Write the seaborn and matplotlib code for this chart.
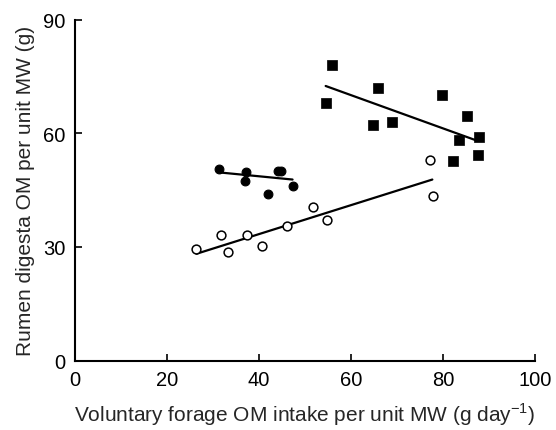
import matplotlib
matplotlib.use("Agg")
import matplotlib.pyplot as plt
import seaborn as sns
import pandas as pd

# Filled circles
fc_x = [31.2, 37.2, 37.0, 42.0, 44.2, 44.7, 47.5]
fc_y = [50.6, 49.7, 47.3, 44.0, 50.1, 50.0, 46.2]
# Open circles
oc_x = [26.4, 31.7, 33.2, 37.4, 40.7, 46.2, 51.7, 54.7, 77.2, 77.8]
oc_y = [29.5, 33.2, 28.6, 33.2, 30.3, 35.6, 40.5, 37.0, 53.0, 43.5]
# Filled squares
sq_x = [55.9, 54.5, 65.9, 64.7, 68.9, 79.8, 85.3, 83.4, 87.9, 82.2, 87.6]
sq_y = [78.0, 67.9, 72.0, 62.2, 62.9, 70.2, 64.5, 58.2, 59.1, 52.6, 54.4]

# Fitted lines (endpoints)
fit_fc_x = [31.2, 47.3]
fit_fc_y = [49.7, 47.8]
fit_oc_x = [26.4, 77.7]
fit_oc_y = [28.2, 47.8]
fit_sq_x = [54.5, 87.1]
fit_sq_y = [72.5, 58.2]

xticks = [0, 20, 40, 60, 80, 100]
yticks = [0, 30, 60, 90]

sns.set_style("ticks")
plt.rcParams['font.family'] = ['Liberation Sans', 'DejaVu Sans']
plt.rcParams['mathtext.fontset'] = 'custom'
plt.rcParams['mathtext.rm'] = 'Liberation Sans'

fig = plt.figure(figsize=(5.56, 4.31), dpi=100)
ax = fig.add_axes([0.135, 0.161, 0.827, 0.791])

for fx, fy in [(fit_fc_x, fit_fc_y), (fit_oc_x, fit_oc_y), (fit_sq_x, fit_sq_y)]:
    sns.lineplot(x=fx, y=fy, ax=ax, color='black', lw=1.6, zorder=2)

sns.scatterplot(x=fc_x, y=fc_y, ax=ax, marker='o', s=40, color='black',
                edgecolor='black', linewidth=0.8, zorder=3)
sns.scatterplot(x=oc_x, y=oc_y, ax=ax, marker='o', s=40, facecolor='white',
                edgecolor='black', linewidth=1.1, zorder=3)
sns.scatterplot(x=sq_x, y=sq_y, ax=ax, marker='s', s=52, color='black',
                edgecolor='black', linewidth=0.5, zorder=3)

ax.set_xlim(0, 100)
ax.set_ylim(0, 90)
ax.set_xticks(xticks)
ax.set_yticks(yticks)
ax.tick_params(direction='in', length=5, width=1.2, labelsize=14.5, colors='black')
ax.tick_params(axis='x', pad=7)
ax.tick_params(axis='y', pad=7)
for s in ['top', 'right']:
    ax.spines[s].set_visible(False)
for s in ['left', 'bottom']:
    ax.spines[s].set_linewidth(1.5)
    ax.spines[s].set_color('black')

ax.set_xlabel('Voluntary forage OM intake per unit MW (g day$^{-1}$)', fontsize=15, labelpad=8)
ax.set_ylabel('Rumen digesta OM per unit MW (g)', fontsize=15, labelpad=6)

fig.savefig('out.png', dpi=100)
